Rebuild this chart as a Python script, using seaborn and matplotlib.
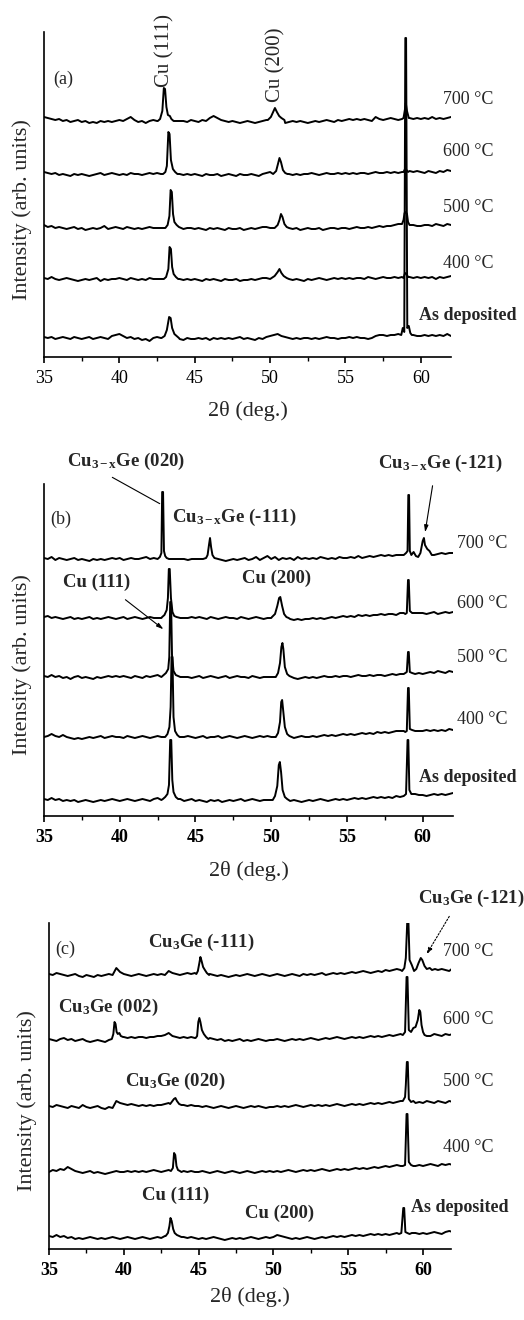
import numpy as np
import matplotlib
matplotlib.use("Agg")
import matplotlib.pyplot as plt
from matplotlib.ticker import MultipleLocator
import seaborn as sns

# ---------------- data (intensity in arbitrary units, baseline-relative) ----------------
# baselines sampled on the scan grid 35.0 ... 62.0 deg (step 0.25), peaks as (2theta, I) vertices
temps = ["As deposited", "400 °C", "500 °C", "600 °C", "700 °C"]

# ---- panel (a)
a_offsets = [19, 78, 129, 183, 236]
a_base_asdep = [1,0,1,-1,0,1,0,-1,1,0,-1,0,1,-1,0,1,0,-1,2,3,
                4,2,0,1,-1,0,-2,-1,-3,0,1,0,0,0,0,0,-1,-2,0,-1,
                -1,0,-1,0,-2,0,-1,0,-1,0,-1,0,1,-1,0,-1,-2,0,-1,1,
                2,3,4,2,1,0,-1,0,-1,0,0,-1,0,-1,0,1,0,0,-1,0,
                0,1,0,1,0,0,-1,0,2,3,3,2,3,3,4,0,0,0,3,2,
                2,3,2,3,2,3,2,4,2]
a_peaks_asdep = [[[42.8,0],[43.0,2],[43.15,8],[43.3,21],[43.4,20],[43.5,10],[43.65,4],[43.8,2],[43.95,0]],
                 [[58.7,3],[58.8,10],[58.9,6],[58.97,300],[59.02,300],[59.1,10],[59.2,12],[59.3,5],[59.4,3]]]
a_base_400 = [1,0,2,0,-1,0,1,0,-1,-2,-1,0,-1,0,1,-2,0,-1,0,0,
              1,0,-1,1,0,-1,0,-1,1,0,0,0,0,0,0,0,0,-1,0,-1,
              0,-1,-2,0,-1,0,-1,-2,0,-1,-1,0,-2,-1,-1,0,-1,0,1,1,
              0,0,0,-1,-2,0,-1,0,-1,-2,0,-1,0,1,0,-1,0,1,0,1,
              0,1,0,1,1,0,2,1,0,1,2,1,1,2,1,2,1,2,1,2,
              1,2,1,2,0,2,1,2,3]
a_peaks_400 = [[[42.95,0],[43.1,2],[43.25,10],[43.33,32],[43.42,30],[43.5,12],[43.6,5],[43.75,2],[43.9,0]],
               [[50.1,1],[50.3,3],[50.5,7],[50.62,10],[50.75,6],[50.9,3],[51.1,1]],
               [[58.85,1],[58.95,6],[59.05,5],[59.15,2]]]
a_base_500 = [3,1,2,0,1,0,-1,0,1,-1,0,-2,-1,0,-1,0,2,-1,0,1,
              0,-1,1,0,-1,0,-1,0,1,0,0,0,0,0,0,0,0,-1,0,0,
              -1,0,-1,-2,0,-1,0,-1,-2,0,-1,-1,0,-2,-1,0,-1,0,1,1,
              0,0,0,-1,-1,-2,-1,0,-2,-1,0,-1,-1,0,-2,-1,0,0,-1,0,
              0,-1,0,1,0,0,1,0,1,2,1,2,2,3,4,0,0,0,3,2,
              2,3,3,2,4,3,2,4,3]
a_peaks_500 = [[[43.05,0],[43.2,3],[43.32,12],[43.4,38],[43.48,36],[43.56,14],[43.65,6],[43.8,3],[43.95,1],[44.1,0]],
               [[50.3,0],[50.5,3],[50.62,8],[50.72,14],[50.82,11],[50.95,4],[51.1,1],[51.25,0]],
               [[58.75,4],[58.85,8],[58.92,15],[59.0,16],[59.08,14],[59.15,6],[59.25,3]]]
a_base_600 = [2,1,0,1,-1,0,-1,-2,0,-1,0,-1,-2,-1,0,1,-1,0,1,0,
              -1,0,-1,1,0,0,-1,0,1,0,1,0,0,0,0,0,0,-1,0,-1,
              0,-1,-2,0,-1,-1,0,-2,-1,0,-1,-2,0,-1,-1,0,-1,-2,0,1,
              2,0,0,-1,-1,0,-1,0,-1,0,0,1,0,-1,0,1,0,0,1,0,
              1,0,1,0,1,1,0,1,2,1,1,2,1,2,1,2,1,3,2,3,
              2,1,3,2,1,3,2,4,3]
a_peaks_600 = [[[42.9,0],[43.05,2],[43.15,8],[43.25,42],[43.33,40],[43.42,14],[43.55,5],[43.7,2],[43.85,0]],
               [[50.2,0],[50.4,3],[50.52,10],[50.62,16],[50.72,12],[50.85,4],[51.0,1],[51.15,0]],
               [[58.85,2],[58.95,5],[59.05,4],[59.15,2]]]
a_base_700 = [4,3,2,1,2,0,1,-1,0,1,-1,0,-2,-1,-2,0,-1,0,-1,0,
              1,0,2,4,1,-1,0,-2,0,1,0,0,0,0,0,0,0,0,-1,1,
              0,-1,1,0,3,5,3,1,0,-1,0,-1,-2,-1,0,-1,-2,-1,0,1,
              2,0,0,-1,-2,-1,0,-1,0,-1,-2,-1,0,-1,0,1,0,-1,1,0,
              1,2,1,2,1,2,1,0,4,2,1,2,3,2,1,2,2,3,2,3,
              2,3,2,4,2,3,2,3,4]
a_peaks_700 = [[[42.55,0],[42.7,2],[42.85,10],[42.95,33],[43.03,32],[43.12,14],[43.22,6],[43.35,5],[43.45,2],[43.6,0]],
               [[49.85,1],[50.05,4],[50.2,9],[50.32,13],[50.45,9],[50.6,5],[50.75,3],[50.95,1]],
               [[58.85,3],[58.95,12],[59.0,18],[59.08,10],[59.2,3]]]

# ---- panel (b)
b_offsets = [16, 79, 139, 198, 257]
b_base_asdep = [1,0,2,0,1,-1,0,-1,0,-2,-1,0,-1,-2,-1,0,-1,0,1,0,
                -1,0,1,0,-1,0,1,0,-1,1,2,0,0,0,0,0,1,-1,0,1,
                -1,0,-1,-2,0,-1,0,-2,-1,0,-1,0,1,-1,0,1,0,-1,0,0,
                0,0,0,0,0,-1,0,-1,-2,-1,0,-1,0,1,0,-1,0,1,0,1,
                0,1,2,1,2,1,2,3,2,3,2,3,2,4,3,3,3,3,6,5,
                5,4,5,6,5,6,5,6,7]
b_peaks_asdep = [[[42.85,1],[43.0,3],[43.15,6],[43.25,15],[43.33,60],[43.4,60],[43.47,20],[43.55,8],[43.7,3],[43.85,1]],
                 [[50.1,0],[50.25,4],[50.4,14],[50.5,35],[50.57,38],[50.65,28],[50.75,10],[50.9,3],[51.05,1]],
                 [[58.75,4],[58.9,6],[59.0,60],[59.05,60],[59.12,10],[59.25,6]]]
b_base_400 = [0,1,3,1,0,2,0,-1,-2,-1,-2,-1,0,-1,0,1,-1,0,1,0,
              0,-1,1,0,-1,0,1,0,-1,0,1,0,0,0,0,0,0,0,1,0,
              -1,0,1,-1,0,0,1,-1,0,1,0,-1,0,1,0,-1,0,1,0,1,
              0,0,0,0,0,0,-1,0,1,0,0,1,0,1,2,1,2,1,2,3,
              2,3,2,3,4,3,4,3,5,4,5,4,5,6,6,6,6,6,6,6,
              6,7,6,7,6,7,6,8,7]
b_peaks_400 = [[[43.0,0],[43.15,3],[43.28,10],[43.36,30],[43.42,80],[43.48,80],[43.55,20],[43.65,6],[43.8,2],[43.95,0]],
               [[50.3,0],[50.45,4],[50.58,15],[50.66,35],[50.72,37],[50.8,25],[50.9,10],[51.05,3],[51.2,1],[51.35,0]],
               [[58.85,5],[58.95,6],[59.03,49],[59.08,49],[59.15,8],[59.3,7]]]
b_base_500 = [1,0,2,0,1,-1,0,-2,0,1,-1,0,-1,-2,0,-1,0,1,0,1,
              0,1,0,-1,1,0,-1,1,0,1,2,0,0,0,0,0,0,0,0,-1,
              0,1,-1,0,1,0,-1,0,1,-1,0,1,0,0,-1,1,0,-1,0,0,
              0,0,0,0,0,0,-1,-2,-1,0,-1,0,-1,0,1,0,0,1,0,1,
              1,0,1,2,1,1,2,1,2,2,1,2,3,2,3,3,3,3,3,4,
              3,4,5,4,6,5,4,6,5]
b_peaks_500 = [[[42.9,2],[43.05,4],[43.2,8],[43.27,20],[43.33,75],[43.39,75],[43.45,22],[43.55,6],[43.7,2],[43.85,1]],
               [[50.3,0],[50.45,4],[50.58,14],[50.67,30],[50.74,34],[50.8,28],[50.9,10],[51.05,3],[51.2,1],[51.35,0]],
               [[58.85,4],[58.95,5],[59.03,25],[59.08,25],[59.15,5],[59.3,4]]]
b_base_600 = [1,2,0,1,0,-1,0,1,-1,0,-1,0,1,-1,0,-1,0,1,0,-1,
              0,1,-1,0,1,0,-1,0,1,0,0,0,0,0,0,0,0,0,0,1,
              0,1,0,-1,1,0,-1,0,1,0,0,-1,1,0,-1,0,1,0,-1,0,
              0,0,0,0,0,-1,-2,-1,-2,-1,-1,0,-1,0,-1,0,1,0,1,2,
              1,2,1,3,2,3,2,3,3,4,3,4,4,3,5,5,5,5,5,5,
              5,4,5,6,4,5,6,5,6]
b_peaks_600 = [[[42.8,1],[42.95,3],[43.1,8],[43.18,20],[43.24,49],[43.3,49],[43.38,20],[43.48,6],[43.6,2],[43.75,1]],
               [[50.05,1],[50.25,4],[50.4,12],[50.52,20],[50.6,21],[50.72,12],[50.85,4],[51.0,1],[51.15,0]],
               [[58.85,4],[58.95,5],[59.03,38],[59.08,38],[59.15,7],[59.3,5]]]
b_base_700 = [1,0,2,-1,1,0,-1,0,1,-1,0,-1,-2,0,-1,0,-1,0,1,0,
              1,-1,0,1,0,0,1,2,0,1,0,0,0,0,0,0,0,0,-1,0,
              0,0,0,0,0,-1,0,-1,-2,-1,0,-1,0,1,-1,0,2,-1,1,3,
              0,2,-1,1,0,1,-1,2,0,1,0,1,0,2,1,0,1,0,2,1,
              1,2,1,3,1,2,3,2,3,4,3,4,3,4,4,3,3,3,3,3,
              5,5,5,5,5,6,5,6,6]
b_peaks_700 = [[[42.5,0],[42.65,2],[42.75,6],[42.8,67],[42.86,67],[42.92,8],[43.0,3],[43.1,1],[43.25,0]],
               [[45.7,1],[45.8,4],[45.9,15],[45.96,21],[46.03,12],[46.12,4],[46.25,1]],
               [[58.75,4],[58.9,6],[59.0,8],[59.05,64],[59.1,64],[59.15,8],[59.25,4],[59.4,7],[59.55,3],
                [59.7,2],[59.85,6],[60.0,18],[60.08,21],[60.15,14],[60.3,10],[60.45,8],[60.6,4],[60.75,4]]]

# ---- panel (c)
c_offsets = [11, 77, 142, 209, 274]
c_base_asdep = [2,1,3,1,2,0,1,-1,0,-1,0,1,0,-1,0,-1,0,1,0,-1,
                0,1,0,-1,0,1,0,-1,0,1,0,2,0,0,0,0,1,0,1,0,
                -1,0,-1,0,1,0,-1,-2,-1,0,-1,0,-1,0,1,0,-1,0,1,0,
                1,3,2,1,0,-1,0,-1,0,1,0,-1,0,1,0,1,2,1,2,1,
                2,3,2,3,2,3,4,3,4,3,4,3,4,5,0,0,0,5,5,4,
                5,4,5,6,5,4,6,7,6]
c_peaks_asdep = [[[42.8,2],[42.95,5],[43.05,12],[43.12,20],[43.2,17],[43.3,9],[43.4,5],[43.55,3],[43.7,2],[43.85,1]],
                 [[58.4,4],[58.55,5],[58.68,30],[58.74,30],[58.82,6],[58.95,5],[59.1,4]]]
c_base_400 = [0,2,1,3,2,5,3,1,0,-1,0,1,-1,0,-1,-2,-1,0,1,0,
              0,1,0,1,0,1,0,1,2,1,0,1,2,0,0,0,1,0,1,0,
              0,1,0,-1,0,1,0,-1,0,1,0,-1,0,1,0,-1,0,1,0,1,
              0,1,0,1,2,1,0,1,2,1,2,1,2,3,2,1,2,3,2,3,
              2,3,4,3,4,3,4,5,4,5,6,5,6,7,6,0,0,0,6,7,
              6,7,8,7,6,8,7,8,7]
c_peaks_400 = [[[43.15,1],[43.28,4],[43.36,19],[43.44,17],[43.52,6],[43.62,2],[43.75,1],[43.85,0]],
               [[58.65,6],[58.8,7],[58.9,58],[58.96,58],[59.05,10],[59.2,7],[59.35,6]]]
c_base_500 = [1,0,2,1,0,-1,1,0,-1,2,0,-1,0,1,-1,-2,0,-1,6,4,
              3,2,3,2,1,2,1,2,1,2,2,3,4,0,0,0,2,1,2,1,
              1,0,1,0,-1,0,1,0,-1,0,1,0,-1,0,1,0,1,0,-1,0,
              0,1,0,1,0,1,2,1,0,1,2,1,2,1,2,1,2,3,2,1,
              2,3,2,3,2,3,4,3,4,3,4,5,4,5,6,0,0,0,0,5,
              4,6,5,4,6,5,4,6,5]
c_peaks_500 = [[[43.1,3],[43.25,6],[43.35,8],[43.45,9],[43.55,6],[43.7,3],[43.85,2]],
               [[58.65,6],[58.8,10],[58.85,22],[58.92,45],[58.98,45],[59.05,8],[59.2,5],[59.35,6],[59.5,4]]]
c_base_600 = [1,0,-1,1,2,0,1,-1,0,1,-1,-2,-1,0,-1,-2,0,0,0,0,
              3,2,3,2,3,3,2,3,3,4,4,5,7,4,3,2,3,2,3,2,
              0,0,0,2,1,0,1,-1,0,-1,0,1,-1,0,-1,0,1,0,-1,0,
              0,1,0,-1,0,1,0,1,0,1,2,1,0,1,2,1,2,3,2,1,
              2,3,2,3,2,3,4,3,4,3,4,5,4,5,6,0,0,0,0,0,
              0,0,4,6,5,4,6,5,6]
c_peaks_600 = [[[39.2,1],[39.3,6],[39.38,18],[39.45,16],[39.52,8],[39.6,6],[39.7,7],[39.8,4],[39.95,3]],
               [[44.8,2],[44.9,4],[44.98,18],[45.05,22],[45.12,18],[45.22,10],[45.35,6],[45.5,3],[45.65,1]],
               [[58.65,5],[58.8,8],[58.9,63],[58.96,63],[59.05,10],[59.2,8],[59.35,12],[59.5,13],[59.65,20],
                [59.75,30],[59.82,28],[59.9,15],[60.0,8],[60.1,5],[60.25,4]]]
c_base_700 = [1,0,2,1,0,-1,0,1,-1,-2,0,-1,-2,0,-1,0,1,0,7,3,
              1,0,-1,0,1,0,-1,0,1,0,1,0,4,2,1,0,1,2,1,2,
              0,0,0,1,0,-1,0,-1,-2,-1,0,-1,0,1,0,-1,0,1,0,-1,
              0,1,0,-1,0,1,0,-1,1,0,1,0,1,2,0,1,2,1,2,1,
              2,3,2,3,4,3,2,3,4,3,5,4,5,6,5,0,0,0,0,0,
              0,0,0,0,5,6,5,4,7]
c_peaks_700 = [[[44.85,1],[44.95,4],[45.05,12],[45.12,18],[45.2,14],[45.3,8],[45.42,5],[45.55,2],[45.7,0]],
               [[58.6,4],[58.75,7],[58.85,17],[58.95,55],[59.02,55],[59.1,15],[59.25,10],[59.4,4],[59.55,6],
                [59.7,12],[59.85,17],[59.95,15],[60.1,9],[60.25,6],[60.45,7],[60.6,5],[60.8,6]]]

x_ticks = [35, 40, 45, 50, 55, 60]


def assemble(base, peaks):
    xb = np.linspace(35.0, 62.0, len(base))
    yb = np.asarray(base, float)
    keep = np.ones(len(xb), dtype=bool)
    px, py = [], []
    for grp in peaks:
        g = np.asarray(grp, float)
        keep &= ~((xb >= g[:, 0].min() - 1e-9) & (xb <= g[:, 0].max() + 1e-9))
        px.append(g[:, 0])
        py.append(g[:, 1])
    x = np.concatenate([xb[keep]] + px)
    y = np.concatenate([yb[keep]] + py)
    o = np.argsort(x, kind="stable")
    return x[o], y[o]


# ---------------- style ----------------
sns.set_style("ticks")
plt.rcParams["font.family"] = ["Liberation Serif", "DejaVu Serif"]
plt.rcParams["mathtext.fontset"] = "custom"
plt.rcParams["mathtext.rm"] = "Liberation Serif"
plt.rcParams["mathtext.it"] = "Liberation Serif:italic"
plt.rcParams["mathtext.bf"] = "Liberation Serif:bold"

W, H = 524, 1320
fig = plt.figure(figsize=(W / 100, H / 100), dpi=100)

# axes boxes in pixels: left, top, right, bottom
boxes = {"a": (44, 32, 451, 357), "b": (44, 484, 453, 816), "c": (49, 923, 451, 1249)}
xmax = {"a": 62.0, "b": 62.0, "c": 61.87}

panels = {
    "a": (a_offsets, [a_base_asdep, a_base_400, a_base_500, a_base_600, a_base_700],
          [a_peaks_asdep, a_peaks_400, a_peaks_500, a_peaks_600, a_peaks_700]),
    "b": (b_offsets, [b_base_asdep, b_base_400, b_base_500, b_base_600, b_base_700],
          [b_peaks_asdep, b_peaks_400, b_peaks_500, b_peaks_600, b_peaks_700]),
    "c": (c_offsets, [c_base_asdep, c_base_400, c_base_500, c_base_600, c_base_700],
          [c_peaks_asdep, c_peaks_400, c_peaks_500, c_peaks_600, c_peaks_700]),
}

axes = {}
for key, (l, t, r, b) in boxes.items():
    ax = fig.add_axes([l / W, (H - b) / H, (r - l) / W, (b - t) / H])
    axes[key] = ax
    offs, bases, peaks = panels[key]
    for off, base, pk in zip(offs, bases, peaks):
        x, y = assemble(base, pk)
        sns.lineplot(x=x, y=y + off, ax=ax, color="black", linewidth=1.4,
                     estimator=None, sort=False, legend=False)
    ax.set_xlim(35, xmax[key])
    ax.set_ylim(0, b - t)
    ax.set_xticks(x_ticks)
    ax.xaxis.set_minor_locator(MultipleLocator(2.5))
    ax.set_yticks([])
    sns.despine(ax=ax)
    for s in ("left", "bottom"):
        ax.spines[s].set_linewidth(1.2)
        ax.spines[s].set_color("black")
    ax.tick_params(axis="x", which="major", direction="out", length=4.5, width=1.2,
                   labelsize=13, pad=5, colors="black")
    ax.tick_params(axis="x", which="minor", direction="out", length=3, width=1.0, colors="black")
    if key in ("b", "c"):
        for lbl in ax.get_xticklabels():
            lbl.set_fontweight("bold")
    ax.set_xlabel("2θ (deg.)", fontsize=16)
    ax.set_ylabel("Intensity (arb. units)", fontsize=16)
    ax.yaxis.set_label_coords(-0.03, 0.455)

axes["a"].xaxis.set_label_coords(0.5, -0.135)
axes["b"].xaxis.set_label_coords(0.5, -0.136)
axes["c"].xaxis.set_label_coords(0.5, -0.117)

# ---------------- annotations ----------------
# panel (a)
ax = axes["a"]
ax.text(35.6, 278, "(a)", fontsize=13, va="center", ha="left")
ax.text(43.02, 270, "Cu (111)", fontsize=15, rotation=90, ha="center", va="bottom")
ax.text(50.38, 255, "Cu (200)", fontsize=15, rotation=90, ha="center", va="bottom")
for lab, yy in zip(temps[1:], [94, 150, 205, 258]):
    ax.text(61.46, yy, lab, fontsize=13, va="center", ha="left")
ax.text(59.87, 42, temps[0], fontsize=13, va="center", ha="left", fontweight="bold")

# panel (b)
ax = axes["b"]
ax.text(35.4, 297, "(b)", fontsize=13, va="center", ha="left")
bk = dict(fontsize=13.5, fontweight="bold", va="center", ha="left")
ax.text(36.52, 355, r"Cu$_{\mathbf{3-x}}$Ge (020)", **bk)
ax.text(43.44, 299, r"Cu$_{\mathbf{3-x}}$Ge (-111)", **bk)
ax.text(57.03, 353, r"Cu$_{\mathbf{3-x}}$Ge (-121)", **bk)
ax.text(36.25, 234, "Cu (111)", **bk)
ax.text(48.06, 238, "Cu (200)", **bk)
ax.annotate("", xy=(42.8, 311), xytext=(39.35, 340), annotation_clip=False,
            arrowprops=dict(arrowstyle="-", color="black", lw=0.8))
ax.annotate("", xy=(43.03, 185), xytext=(40.23, 218), annotation_clip=False,
            arrowprops=dict(arrowstyle="-|>,head_length=0.4,head_width=0.12", color="black", lw=0.8))
ax.annotate("", xy=(60.13, 281), xytext=(60.68, 333), annotation_clip=False,
            arrowprops=dict(arrowstyle="-|>,head_length=0.4,head_width=0.12", color="black", lw=0.8))
for lab, yy in zip(temps[1:], [96, 159, 213, 272]):
    ax.text(62.25, yy, lab, fontsize=13, va="center", ha="left")
ax.text(59.74, 39, temps[0], fontsize=13, va="center", ha="left", fontweight="bold")

# panel (c)
ax = axes["c"]
ax.text(35.4, 300, "(c)", fontsize=13, va="center", ha="left")
ax.text(59.67, 351, r"Cu$_{\mathbf{3}}$Ge (-121)", **bk)
ax.text(41.62, 307, r"Cu$_{\mathbf{3}}$Ge (-111)", **bk)
ax.text(35.6, 242, r"Cu$_{\mathbf{3}}$Ge (002)", **bk)
ax.text(40.08, 168, r"Cu$_{\mathbf{3}}$Ge (020)", **bk)
ax.text(41.22, 54, "Cu (111)", **bk)
ax.text(48.1, 36, "Cu (200)", **bk)
ax.annotate("", xy=(60.13, 292), xytext=(61.85, 335), annotation_clip=False,
            arrowprops=dict(arrowstyle="-|>,head_length=0.4,head_width=0.12", color="black",
                            lw=0.8, linestyle=(0, (1.5, 1.5))))
for lab, yy in zip(temps[1:], [102, 167, 229, 297]):
    ax.text(61.34, yy, lab, fontsize=13, va="center", ha="left")
ax.text(59.2, 41, temps[0], fontsize=13, va="center", ha="left", fontweight="bold")

fig.savefig("out.png", dpi=100)
